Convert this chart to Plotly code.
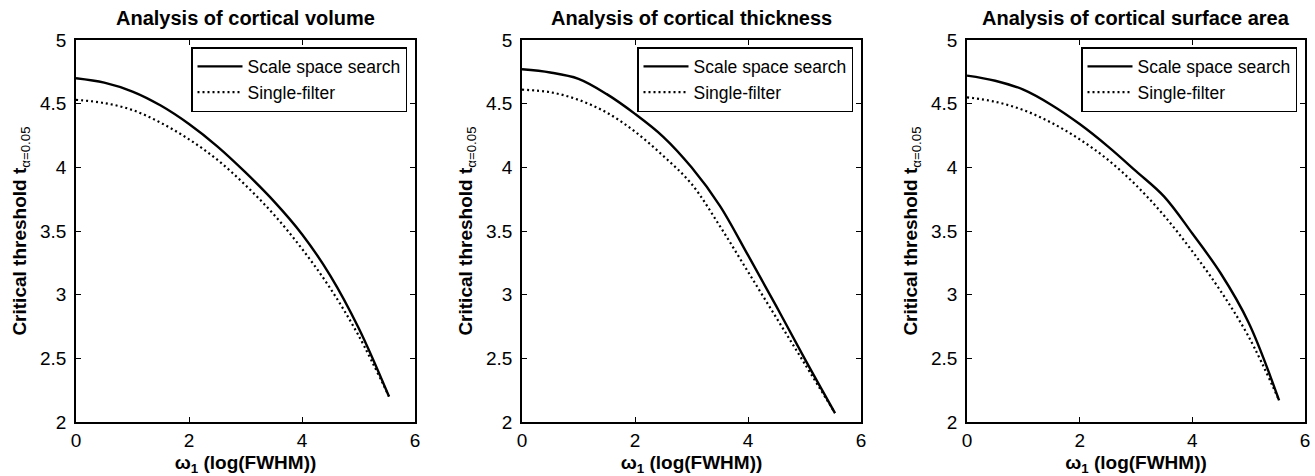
import plotly.graph_objects as go

# x positions (omega_1, log(FWHM))
x_vals = [0, 0.5, 1, 1.5, 2, 2.5, 3, 3.5, 4, 4.5, 5, 5.54]

titles = ["Analysis of cortical volume", "Analysis of cortical thickness", "Analysis of cortical surface area"]

# Scale space search (solid)
vol_scale = [4.70, 4.665, 4.595, 4.485, 4.34, 4.165, 3.96, 3.735, 3.475, 3.15, 2.74, 2.20]
thk_scale = [4.77, 4.745, 4.695, 4.575, 4.42, 4.24, 4.00, 3.70, 3.31, 2.91, 2.50, 2.07]
sur_scale = [4.72, 4.68, 4.61, 4.49, 4.34, 4.165, 3.97, 3.77, 3.48, 3.17, 2.78, 2.17]

# Single-filter (dotted)
vol_single = [4.53, 4.505, 4.45, 4.35, 4.22, 4.06, 3.86, 3.63, 3.36, 3.05, 2.68, 2.20]
thk_single = [4.61, 4.59, 4.53, 4.43, 4.28, 4.09, 3.87, 3.54, 3.18, 2.82, 2.46, 2.07]
sur_single = [4.55, 4.515, 4.45, 4.35, 4.22, 4.06, 3.86, 3.62, 3.34, 3.03, 2.67, 2.17]

scale_series = [vol_scale, thk_scale, sur_scale]
single_series = [vol_single, thk_single, sur_single]

x_ticks = [0, 2, 4, 6]
y_ticks = [2, 2.5, 3, 3.5, 4, 4.5, 5]
y_tick_text = ["2", "2.5", "3", "3.5", "4", "4.5", "5"]

W, H = 1315, 476
left_px = [76, 522, 967]
right_px = [415, 861, 1305]
top_px, bot_px = 40, 422

FONT = "Liberation Sans, Arial, sans-serif"

fig = go.Figure()
layout = dict(
    width=W, height=H,
    margin=dict(l=0, r=0, t=0, b=0, autoexpand=False),
    paper_bgcolor="white", plot_bgcolor="white",
    font=dict(family=FONT, size=18, color="black"),
    showlegend=True,
)

annotations = []
for i in range(3):
    sfx = "" if i == 0 else str(i + 1)
    xa = "x" + sfx
    ya = "y" + sfx
    lg = "legend" + sfx
    fig.add_trace(go.Scatter(
        x=x_vals, y=scale_series[i], mode="lines", name="Scale space search",
        line=dict(color="black", width=2.4, shape="spline", smoothing=1.0),
        xaxis=xa, yaxis=ya, legend=lg))
    fig.add_trace(go.Scatter(
        x=x_vals, y=single_series[i], mode="lines", name="Single-filter",
        line=dict(color="black", width=2.2, dash="2px,3px", shape="spline", smoothing=1.0),
        xaxis=xa, yaxis=ya, legend=lg))

    xd = [left_px[i] / W, right_px[i] / W]
    yd = [(H - bot_px) / H, (H - top_px) / H]
    layout["xaxis" + sfx] = dict(
        domain=xd, anchor=ya, range=[0, 6], tickvals=x_ticks, automargin=False,
        ticks="inside", ticklen=5, tickcolor="black", mirror="allticks",
        showline=True, linecolor="black", linewidth=1.5, showgrid=False, zeroline=False,
        tickfont=dict(size=19, family=FONT), ticklabelstandoff=0,
        title=dict(text="<b>ω<sub>1</sub> (log(FWHM))</b>", font=dict(size=19, family=FONT), standoff=6),
    )
    layout["yaxis" + sfx] = dict(
        domain=yd, anchor=xa, range=[2, 5], tickvals=y_ticks, ticktext=y_tick_text, automargin=False,
        ticks="inside", ticklen=5, tickcolor="black", mirror="allticks",
        showline=True, linecolor="black", linewidth=1.5, showgrid=False, zeroline=False,
        tickfont=dict(size=19, family=FONT), ticklabelstandoff=4,
        title=dict(text="<b>Critical threshold t</b><sub>α=0.05</sub>", font=dict(size=19, family=FONT), standoff=8),
    )
    layout[lg] = dict(
        x=(right_px[i] - 8) / W, y=(H - 47) / H, xanchor="right", yanchor="top",
        xref="paper", yref="paper",
        bordercolor="black", borderwidth=1.5, bgcolor="white",
        font=dict(size=17.5, family=FONT), itemwidth=45, tracegroupgap=0,
    )
    annotations.append(dict(
        text="<b>" + titles[i] + "</b>", x=(left_px[i] + right_px[i]) / 2 / W, y=(H - 18) / H,
        xref="paper", yref="paper", xanchor="center", yanchor="middle", showarrow=False,
        font=dict(size=20, family=FONT)))

layout["annotations"] = annotations
fig.update_layout(**layout)
fig.write_html("out.html")
